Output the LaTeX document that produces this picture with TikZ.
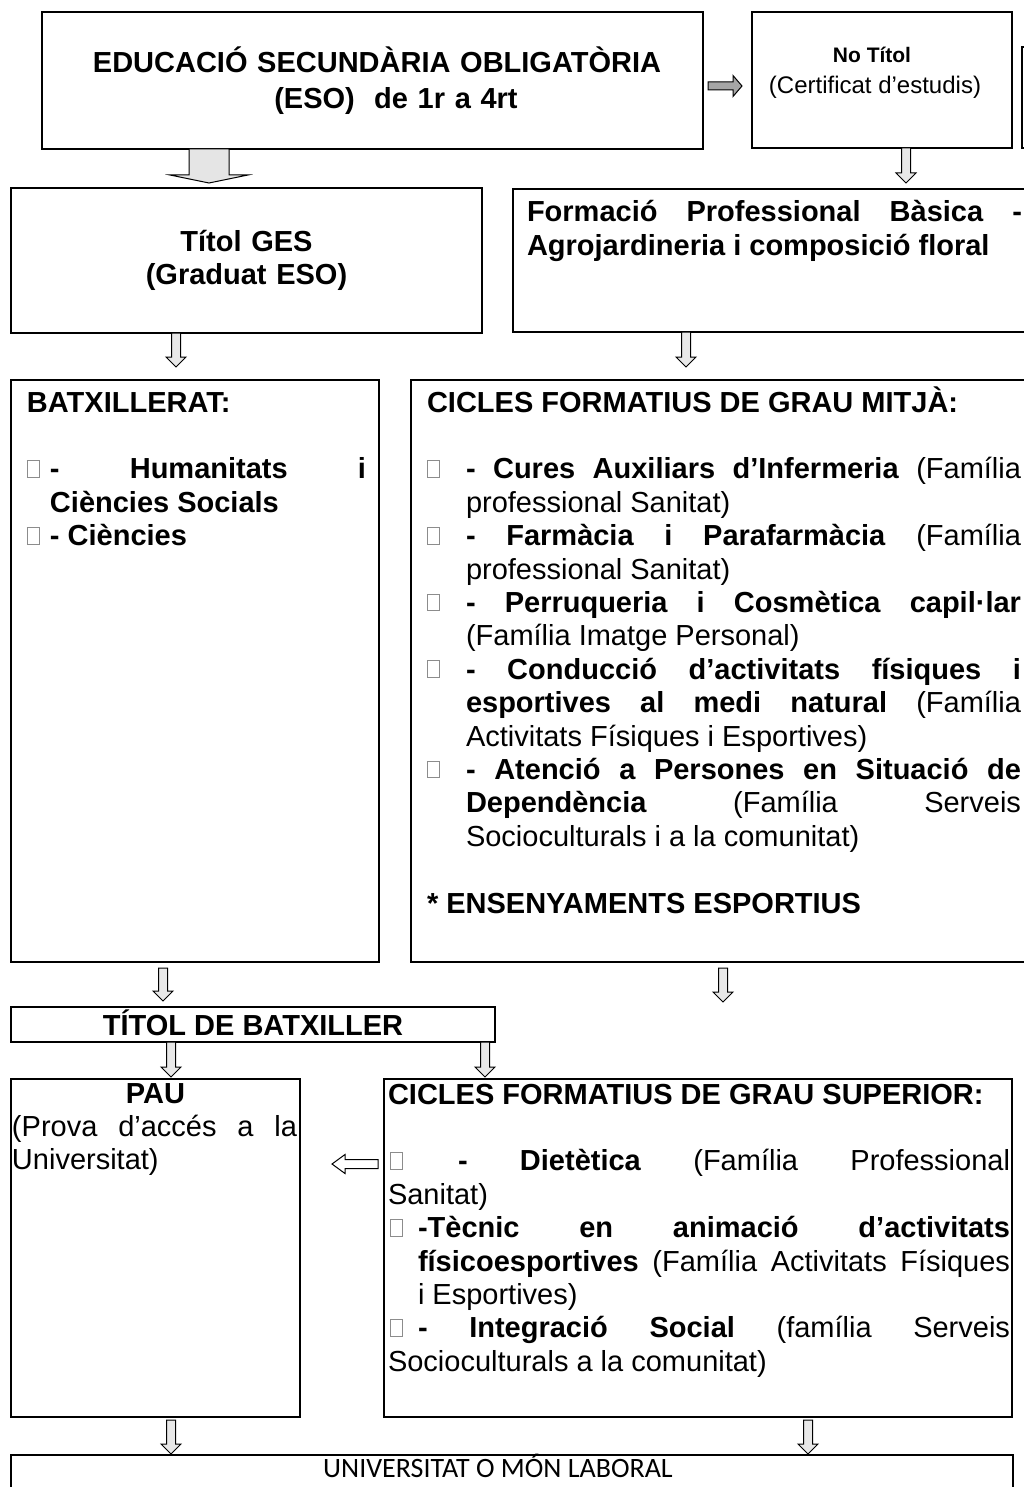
\documentclass[tikz,border=0pt]{standalone}
\usepackage{fontspec}
\setmainfont{Liberation Sans}
\newfontfamily\calib{Carlito}
\usetikzlibrary{calc}
\newcommand\bodyfont{\fontsize{29}{33.4}\selectfont}
\newcommand\jset{\parindent=0pt\parskip=0pt\spaceskip=8.06pt plus 400pt minus 0.5pt\relax}
\newcommand\bx{\raisebox{2pt}{\textcolor{black!45}{\setlength\fboxrule{0.9pt}\setlength\fboxsep{0pt}\fbox{\rule{0pt}{16pt}\hspace{11pt}}}}}
\newcommand\strt{\rule{0pt}{30pt}}
% vertical block arrow: [style]{start}{end}{shaft half}{head half}{head length}
\newcommand\vblock[6][]{\draw[blk,#1] let \p1=#2, \p2=#3 in
  ({\x1-#4},{\y1}) -- ({\x1-#4},{\y2+#6}) -- ({\x1-#5},{\y2+#6}) -- ({\x1},{\y2}) --
  ({\x1+#5},{\y2+#6}) -- ({\x1+#4},{\y2+#6}) -- ({\x1+#4},{\y1}) -- cycle;}
% horizontal block arrow: [style]{start}{end}{shaft half}{head half}{signed head length}
\newcommand\hblock[6][]{\draw[blk,#1] let \p1=#2, \p2=#3 in
  ({\x1},{\y1+#4}) -- ({\x2-#6},{\y1+#4}) -- ({\x2-#6},{\y1+#5}) -- ({\x2},{\y1}) --
  ({\x2-#6},{\y1-#5}) -- ({\x2-#6},{\y1-#4}) -- ({\x1},{\y1-#4}) -- cycle;}
\tikzset{
  box/.style={draw=black, line width=2pt, inner sep=0pt, outer sep=0pt, rectangle},
  txt/.style={inner sep=0pt, outer sep=0pt, font=\bodyfont},
  para/.style={inner sep=0pt, outer sep=0pt, anchor=north west, align=justify, font=\bodyfont\jset},
  blk/.style={draw=black, line width=1pt, fill=black!9, line join=miter},
}
\begin{document}
\begin{tikzpicture}[x=1pt,y=-1pt]
\useasboundingbox[fill=white] (0,0) rectangle (1024,1487);
% ---------- boxes ----------
\node[box, minimum width=661pt, minimum height=137pt] (eso) at (372.5,80.5) {};
\node[box, minimum width=260pt, minimum height=136pt] (notitol) at (882,80) {};
\node[box, minimum width=80pt, minimum height=101pt] (edge) at (1062,97.5) {};
\node[box, minimum width=471pt, minimum height=145pt] (ges) at (246.5,260.5) {};
\node[box, minimum width=532pt, minimum height=143pt] (fp) at (779,260.5) {};
\node[box, minimum width=368pt, minimum height=582pt] (batx) at (195,671) {};
\node[box, minimum width=634pt, minimum height=582pt] (cicles) at (728,671) {};
\node[box, minimum width=484pt, minimum height=35pt] (titol) at (253,1024.5) {};
\node[box, minimum width=289pt, minimum height=338pt] (pau) at (155.5,1248) {};
\node[box, minimum width=628pt, minimum height=338pt] (cfgs) at (698,1248) {};
\node[box, minimum width=1002pt, minimum height=65pt] (univ) at (512,1487.5) {};
% ---------- texts ----------
\node[txt, font=\fontsize{29}{36}\selectfont\bfseries, align=center, text width=640pt, anchor=north] (esot) at (377,43)
  {\strt EDUCACIÓ SECUNDÀRIA OBLIGATÒRIA\\\hspace*{38pt}(ESO)\ \ de 1r a 4rt};
\node[txt, font=\fontsize{21}{25}\selectfont\bfseries, anchor=base] (nt1) at (872,63) {No Títol};
\node[txt, font=\fontsize{24}{28}\selectfont, anchor=base] (nt2) at (875,94) {(Certificat d’estudis)};
\node[txt, font=\fontsize{29}{33}\selectfont\bfseries, align=center, text width=471pt, anchor=north] (gest) at (246.5,222)
  {\strt Títol GES\\(Graduat ESO)};
\node[para, text width=495pt] (fpt) at (527,192)
  {\strt\textbf{Formació Professional Bàsica -\linebreak Agrojardineria i composició floral}};
\node[para, text width=339pt] (batxt) at (27,382)
  {\strt\textbf{BATXILLERAT:}\par
   \vskip 33.4pt
   \hangindent=23pt\hangafter=1\makebox[23pt][l]{\bx}\textbf{- Humanitats i\linebreak Ciències Socials}\par
   \hangindent=23pt\hangafter=1\makebox[23pt][l]{\bx}\textbf{- Ciències}};
\node[para, text width=594pt] (ciclest) at (427,382)
  {\strt\textbf{CICLES FORMATIUS DE GRAU MITJÀ:}\par
   \vskip 33.4pt
   \hangindent=39pt\hangafter=1\makebox[39pt][l]{\bx}\textbf{- Cures Auxiliars d’Infermeria} (Família\linebreak professional Sanitat)\par
   \hangindent=39pt\hangafter=1\makebox[39pt][l]{\bx}\textbf{- Farmàcia i Parafarmàcia} (Família\linebreak professional Sanitat)\par
   \hangindent=39pt\hangafter=1\makebox[39pt][l]{\bx}\textbf{- Perruqueria i Cosmètica capil·lar}\linebreak (Família Imatge Personal)\par
   \hangindent=39pt\hangafter=1\makebox[39pt][l]{\bx}\textbf{- Conducció d’activitats físiques i\linebreak esportives al medi natural} (Família\linebreak Activitats Físiques i Esportives)\par
   \hangindent=39pt\hangafter=1\makebox[39pt][l]{\bx}\textbf{- Atenció a Persones en Situació de\linebreak Dependència} (Família Serveis\linebreak Socioculturals i a la comunitat)\par
   \vskip 33.4pt
   \textbf{* ENSENYAMENTS ESPORTIUS}};
\node[txt, font=\bodyfont\bfseries, anchor=base] (titolt) at (253,1035) {TÍTOL DE BATXILLER};
\node[txt, font=\bodyfont\bfseries, anchor=base] (pau1) at (155.5,1103) {PAU};
\node[para, text width=285pt] (pau2) at (12,1106) {\strt(Prova d’accés a la\linebreak Universitat)};
\node[para, text width=622pt] (cfgst) at (388,1074)
  {\strt\textbf{CICLES FORMATIUS DE GRAU SUPERIOR:}\par
   \vskip 33.4pt
   \makebox[70pt][l]{\hspace{2pt}\bx}\textbf{- Dietètica} (Família Professional\linebreak Sanitat)\par
   \hangindent=30pt\hangafter=1\makebox[30pt][l]{\hspace{2pt}\bx}\textbf{-Tècnic en animació d’activitats\linebreak físicoesportives} (Família Activitats Físiques\linebreak i Esportives)\par
   \hangindent=30pt\hangafter=1\makebox[30pt][l]{\hspace{2pt}\bx}\textbf{- Integració Social} (família Serveis\linebreak Socioculturals a la comunitat)};
\node[txt, font=\calib\fontsize{28}{30}\selectfont, anchor=base] (univt) at (498,1477) {UNIVERSITAT O MÓN LABORAL};
% ---------- connector x / y positions ----------
\coordinate (xbig) at (209,0);
\coordinate (ya) at (0,86);
\coordinate (xn) at (906,0);
\coordinate (xg) at (176,0);
\coordinate (xf) at (686,0);
\coordinate (xb) at (163,0);
\coordinate (xc) at (723,0);
\coordinate (free) at (723,1002);
\coordinate (xt1) at (171,0);
\coordinate (xt2) at (485,0);
\coordinate (xs) at (808,0);
\coordinate (yl) at (0,1164);
% ---------- connectors ----------
\vblock[fill=black!10]{(eso.south -| xbig)}{($(ges.north -| xbig)+(0,-5)$)}{20pt}{39pt}{8pt}
\hblock[fill=black!35]{($(eso.east |- ya)+(5,0)$)}{($(notitol.west |- ya)+(-10,0)$)}{4pt}{10.5pt}{9pt}
\vblock{(notitol.south -| xn)}{($(fp.north -| xn)+(0,-6)$)}{4.5pt}{10pt}{10pt}
\vblock{(ges.south -| xg)}{($(batx.north -| xg)+(0,-13)$)}{4.5pt}{10pt}{10pt}
\vblock{(fp.south -| xf)}{($(cicles.north -| xf)+(0,-13)$)}{4.5pt}{10pt}{10pt}
\vblock{($(batx.south -| xb)+(0,6)$)}{($(titol.north -| xb)+(0,-6)$)}{4.5pt}{10pt}{10pt}
\vblock{($(cicles.south -| xc)+(0,6)$)}{(free)}{4.5pt}{10pt}{10pt}
\vblock{(titol.south -| xt1)}{($(pau.north -| xt1)+(0,-2)$)}{4.5pt}{10pt}{10pt}
\vblock{(titol.south -| xt2)}{($(cfgs.north -| xt2)+(0,-2)$)}{4.5pt}{10pt}{10pt}
\hblock[fill=white]{($(cfgs.west |- yl)+(-6,0)$)}{($(pau.east |- yl)+(32,0)$)}{4.5pt}{9.5pt}{-13pt}
\vblock{($(pau.south -| xt1)+(0,3)$)}{($(univ.north -| xt1)+(0,-1)$)}{4.5pt}{10pt}{10pt}
\vblock{($(cfgs.south -| xs)+(0,3)$)}{($(univ.north -| xs)+(0,-1)$)}{4.5pt}{10pt}{10pt}
\end{tikzpicture}
\end{document}
